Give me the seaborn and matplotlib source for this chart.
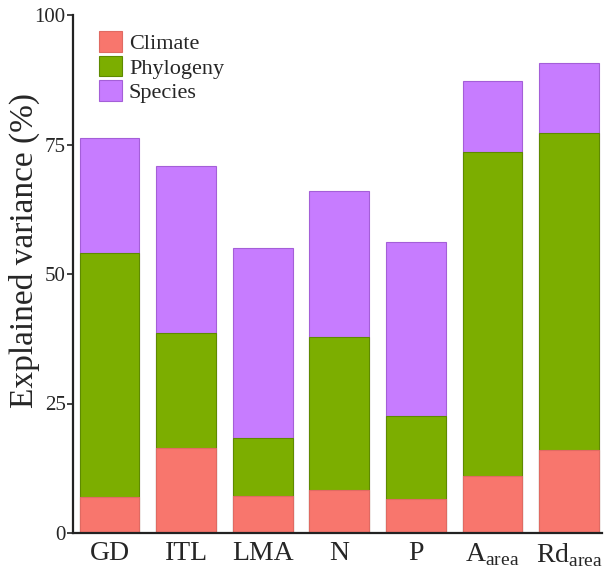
import matplotlib
matplotlib.use("Agg")
import matplotlib.pyplot as plt
import seaborn as sns
import pandas as pd
import numpy as np
from matplotlib.patches import Patch

categories = ["GD", "ITL", "LMA", "N", "P", "A_area", "Rd_area"]
tick_labels = ["GD", "ITL", "LMA", "N", "P",
               r"A$_{\mathregular{area}}$", r"Rd$_{\mathregular{area}}$"]
climate = [7.0, 16.5, 7.2, 8.3, 6.6, 11.0, 16.1]
phylogeny = [47.1, 22.2, 11.2, 29.6, 15.9, 62.6, 61.2]
species = [22.2, 32.2, 36.6, 28.1, 33.6, 13.7, 13.5]

sns.set_style("white")
plt.rcParams['font.family'] = ['Liberation Serif', 'DejaVu Serif']
plt.rcParams['mathtext.fontset'] = 'custom'
plt.rcParams['mathtext.rm'] = 'Liberation Serif'

colors = {"Climate": "#F8766D", "Phylogeny": "#7CAE00", "Species": "#C77CFF"}
edges = {"Climate": "#E06A62", "Phylogeny": "#5E8A00", "Species": "#A45FD8"}

df = pd.DataFrame({"cat": categories, "Climate": climate,
                   "Phylogeny": phylogeny, "Species": species})
df["top_clim"] = df["Climate"]
df["top_phy"] = df["Climate"] + df["Phylogeny"]
df["top_sp"] = df["top_phy"] + df["Species"]

fig = plt.figure(figsize=(6.09, 5.68), dpi=100)
ax = fig.add_axes([72.7/609, 1 - 533/568, (602 - 72.7)/609, (533 - 15)/568])

for col, name in [("top_sp", "Species"), ("top_phy", "Phylogeny"), ("top_clim", "Climate")]:
    sns.barplot(data=df, x="cat", y=col, ax=ax, color=colors[name], width=0.78,
                saturation=1, edgecolor=edges[name], linewidth=0.8, order=categories)

ax.set_xlim(-0.48, 6.43)
ax.set_ylim(0, 100)
ax.set_yticks([0, 25, 50, 75, 100])
ax.set_xticks(range(len(categories)))
ax.set_xticklabels(tick_labels, fontsize=20)
ax.tick_params(axis='y', labelsize=15, length=4, width=1.2, pad=1, direction='out', left=True, color='#222222')
ax.tick_params(axis='x', length=0, pad=6)
ax.set_xlabel("")
ax.set_ylabel("Explained variance (%)", fontsize=24)
ax.yaxis.set_label_coords((40 - 72.7) / 529.3, (533 - 251) / 518)
for s in ["top", "right"]:
    ax.spines[s].set_visible(False)
for s in ["left", "bottom"]:
    ax.spines[s].set_color("#222222")
    ax.spines[s].set_linewidth(1.6)

handles = [Patch(facecolor=colors[n], edgecolor=edges[n], linewidth=0.8, label=n)
           for n in ["Climate", "Phylogeny", "Species"]]
fig.legend(handles=handles, loc='upper left', bbox_to_anchor=(99/609, 1 - 31/568),
           bbox_transform=fig.transFigure, frameon=False, fontsize=16,
           handlelength=1.05, handleheight=1.05, labelspacing=0.08,
           handletextpad=0.3, borderpad=0, borderaxespad=0)

fig.savefig("out.png", dpi=100)
